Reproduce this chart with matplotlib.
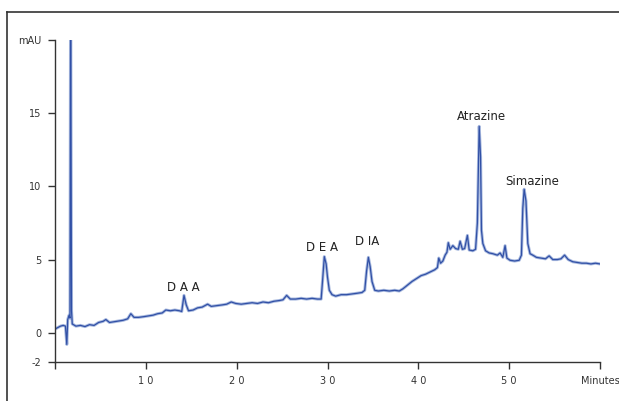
import matplotlib
matplotlib.use('Agg')
import matplotlib.pyplot as plt
from matplotlib.lines import Line2D
import numpy as np

# Chromatogram trace (time in minutes, absorbance in mAU)
TIME = [0.0, 0.3, 0.6, 0.9, 1.15, 1.3, 1.4, 1.55, 1.65, 1.72, 1.82, 1.9, 2.3, 2.8, 3.3, 3.8,
        4.3, 4.8, 5.3, 5.6, 6.0, 6.5, 7.0, 7.5, 8.0, 8.35, 8.7, 9.2, 9.8, 10.3, 10.8, 11.3,
        11.8, 12.2, 12.7, 13.2, 13.7, 13.95, 14.2, 14.45, 14.7, 15.2, 15.7, 16.2, 16.8, 17.2,
        17.8, 18.4, 18.9, 19.4, 19.9, 20.5, 21.1, 21.7, 22.3, 22.9, 23.5, 24.1, 24.7, 25.1,
        25.5, 25.9, 26.5, 27.1, 27.7, 28.3, 28.9, 29.3, 29.45, 29.65, 29.85, 30.0, 30.2, 30.5,
        30.9, 31.5, 32.1, 32.7, 33.3, 33.8, 34.1, 34.3, 34.5, 34.7, 34.9, 35.2, 35.6, 36.2,
        36.8, 37.4, 37.9, 38.3, 38.8, 39.3, 39.8, 40.3, 40.8, 41.3, 41.8, 42.1, 42.25, 42.45,
        42.7, 42.95, 43.15, 43.3, 43.5, 43.8, 44.1, 44.4, 44.6, 44.85, 45.1, 45.4, 45.6, 46.0,
        46.3, 46.5, 46.7, 46.85, 46.95, 47.1, 47.4, 47.8, 48.2, 48.7, 49.0, 49.3, 49.55, 49.75,
        50.1, 50.6, 51.1, 51.35, 51.5, 51.65, 51.85, 52.05, 52.3, 52.6, 53.0, 53.5, 54.0, 54.4,
        54.8, 55.3, 55.7, 56.1, 56.5, 57.0, 57.5, 58.0, 58.5, 59.0, 59.5, 60.0]
MAU = [0.25, 0.35, 0.45, 0.5, 0.45, -0.8, 0.9, 1.2, 1.0, 24.0, 1.5, 0.6, 0.45, 0.5, 0.42, 0.55,
       0.5, 0.7, 0.78, 0.9, 0.7, 0.75, 0.8, 0.85, 0.95, 1.3, 1.05, 1.05, 1.1, 1.15, 1.2, 1.3,
       1.35, 1.55, 1.5, 1.55, 1.5, 1.45, 2.55, 1.9, 1.5, 1.55, 1.7, 1.75, 1.95, 1.8,
       1.85, 1.9, 1.95, 2.1, 2.0, 1.95, 2.0, 2.05, 2.0, 2.1, 2.05, 2.15, 2.2, 2.25,
       2.55, 2.3, 2.3, 2.35, 2.3, 2.35, 2.3, 2.3, 3.5, 5.2, 4.7, 3.8, 2.9, 2.6,
       2.5, 2.6, 2.6, 2.65, 2.7, 2.75, 2.9, 4.2, 5.15, 4.5, 3.5, 2.9, 2.85, 2.9,
       2.85, 2.9, 2.85, 3.0, 3.25, 3.5, 3.7, 3.9, 4.0, 4.15, 4.3, 4.45, 5.1, 4.75,
       4.9, 5.3, 5.5, 6.15, 5.7, 5.95, 5.75, 5.7, 6.25, 5.7, 5.75, 6.65, 5.65, 5.6,
       5.7, 7.5, 14.1, 12.0, 7.0, 6.1, 5.6, 5.45, 5.4, 5.3, 5.45, 5.15, 5.95, 5.1,
       4.95, 4.9, 4.95, 5.3, 8.5, 9.8, 9.0, 6.1, 5.4, 5.3, 5.15, 5.1, 5.05, 5.25,
       5.0, 5.0, 5.05, 5.3, 5.0, 4.85, 4.8, 4.75, 4.75, 4.7, 4.75, 4.7]

PEAK_NAMES = ['D A A', 'D E A', 'D IA', 'Atrazine', 'Simazine']
PEAK_X = [14.1, 29.4, 34.35, 47.0, 52.5]
PEAK_Y = [3.1, 5.8, 6.2, 14.8, 10.3]

X_TICKS = [0, 10, 20, 30, 40, 50, 60]
X_LABELS = ['', '1 0', '2 0', '3 0', '4 0', '5 0', 'Minutes']
Y_TICKS = [-2, 0, 5, 10, 15, 20]
Y_LABELS = ['-2', '0', '5', '10', '15', 'mAU']

FONT = ['Liberation Sans Narrow', 'DejaVu Sans']
LINE = '#3150a6'
INK = '#333333'

fig = plt.figure(figsize=(6.19, 4.01), dpi=100)
ax = fig.add_axes([55/619, 1 - 362/401, 545/619, 322/401])

# light halo under the trace to mimic detector noise
ax.plot(TIME, MAU, color='#a9badf', lw=2.2, solid_joinstyle='round')
ax.plot(TIME, MAU, color=LINE, lw=0.9, solid_joinstyle='round')

for name, x, y in zip(PEAK_NAMES, PEAK_X, PEAK_Y):
    ax.text(x, y, name, ha='center', va='center', fontsize=8.5, color='#222222', family=FONT)

ax.set_xlim(0, 60)
ax.set_ylim(-2, 20)
ax.set_xticks(X_TICKS)
ax.set_xticklabels(X_LABELS, family=FONT, fontsize=7, color=INK)
ax.set_yticks(Y_TICKS)
ax.set_yticklabels(Y_LABELS, family=FONT, fontsize=7, color=INK)
ax.tick_params(direction='out', length=5, width=1.0, color=INK, pad=5)
for s in ('top', 'right'):
    ax.spines[s].set_visible(False)
for s in ('left', 'bottom'):
    ax.spines[s].set_color(INK)
    ax.spines[s].set_linewidth(1.0)

# outer frame: top and left edges only
fig.add_artist(Line2D([7/619, 1.0], [1 - 12/401, 1 - 12/401], color=INK, lw=1.2,
                      transform=fig.transFigure))
fig.add_artist(Line2D([7/619, 7/619], [0, 1 - 12/401], color=INK, lw=1.2,
                      transform=fig.transFigure))

fig.savefig('out.png', dpi=100)
